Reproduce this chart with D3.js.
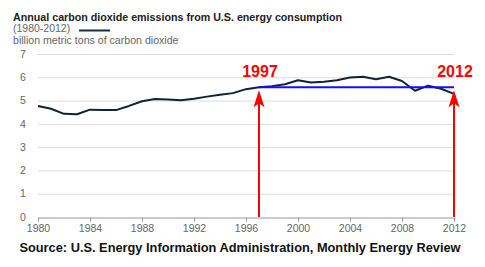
<!DOCTYPE html>
<html lang="en">
<head>
<meta charset="utf-8">
<style>
  body { margin: 0; background: #fff; font-family: "Liberation Sans", Arial, sans-serif; }
  .axis text { fill: #666; font-size: 10.5px; }
</style>
</head>
<body>
<svg width="485" height="267"></svg>
<script src="https://cdn.jsdelivr.net/npm/d3@7"></script>
<script>
// annual CO2 emissions, billion metric tons
var years = d3.range(1980, 2013)
var emissions = [4.77, 4.65, 4.43, 4.41, 4.61, 4.59, 4.59, 4.77, 4.97, 5.07,
  5.05, 5.01, 5.08, 5.17, 5.25, 5.32, 5.49, 5.57, 5.62, 5.70,
  5.87, 5.78, 5.81, 5.87, 5.99, 6.02, 5.92, 6.02, 5.84, 5.42,
  5.64, 5.51, 5.29]
var xTicks = d3.range(1980, 2013, 4)
var yTicks = [0, 1, 2, 3, 4, 5, 6, 7]
var markYears = [1997, 2012]

var svg = d3.select('svg')
var margin = {top: 54, right: 31, bottom: 50, left: 38}
var width = 485 - margin.left - margin.right
var height = 267 - margin.top - margin.bottom

var x = d3.scaleLinear().domain([1980, 2012]).range([margin.left, margin.left + width])
var y = d3.scaleLinear().domain([0, 7]).range([margin.top + height, margin.top])

// header
svg.append('text').attr('x', 13).attr('y', 21)
  .attr('font-size', 10.7).attr('font-weight', 'bold').attr('fill', '#222')
  .text('Annual carbon dioxide emissions from U.S. energy consumption')
svg.append('text').attr('x', 13).attr('y', 32)
  .attr('font-size', 10.5).attr('fill', '#666')
  .text('(1980-2012)')
svg.append('line').attr('x1', 79).attr('x2', 110).attr('y1', 30.5).attr('y2', 30.5)
  .attr('stroke', '#10304a').attr('stroke-width', 2)
svg.append('text').attr('x', 13).attr('y', 44)
  .attr('font-size', 10.6).attr('fill', '#666')
  .text('billion metric tons of carbon dioxide')

// gridlines + y labels
var yAxis = svg.append('g').attr('class', 'axis')
yAxis.selectAll('line').data(yTicks.slice(1)).enter().append('line')
  .attr('x1', margin.left).attr('x2', margin.left + width)
  .attr('y1', function (d) { return y(d) + 0.5 })
  .attr('y2', function (d) { return y(d) + 0.5 })
  .attr('stroke', '#ddd')
yAxis.selectAll('text').data(yTicks).enter().append('text')
  .attr('x', 23).attr('y', function (d) { return y(d) })
  .attr('dy', '0.35em').attr('text-anchor', 'middle')
  .text(function (d) { return d })

// x axis
var xAxis = svg.append('g').attr('class', 'axis')
  .attr('transform', 'translate(0,' + (y(0) + 0.5) + ')')
  .call(d3.axisBottom(x).tickValues(xTicks).tickFormat(d3.format('d')).tickSize(4).tickPadding(3))
xAxis.select('.domain').attr('stroke', '#999')
xAxis.selectAll('.tick line').attr('stroke', '#999')
xAxis.selectAll('text').attr('font-family', null).attr('font-size', null)

// emissions line
var line = d3.line()
  .x(function (d, i) { return x(years[i]) })
  .y(function (d) { return y(d) })
svg.append('path').datum(emissions)
  .attr('fill', 'none').attr('stroke', '#0f2336').attr('stroke-width', 2)
  .attr('stroke-linejoin', 'round')
  .attr('d', line)

// 1997 level
var level = emissions[years.indexOf(1997)]
svg.append('line')
  .attr('x1', x(1997)).attr('x2', x(2012))
  .attr('y1', y(level)).attr('y2', y(level))
  .attr('stroke', '#1010ff').attr('stroke-width', 2)

// red arrows + labels
var marks = svg.append('g').selectAll('g').data(markYears).enter().append('g')
marks.append('line')
  .attr('x1', function (d) { return x(d) }).attr('x2', function (d) { return x(d) })
  .attr('y1', y(0)).attr('y2', y(level) + 10)
  .attr('stroke', '#ff0000').attr('stroke-width', 2)
marks.append('path')
  .attr('d', function (d) {
    var tip = y(level) + 3
    return 'M' + x(d) + ',' + tip + 'L' + (x(d) - 5.5) + ',' + (tip + 17) +
      'L' + x(d) + ',' + (tip + 13) + 'L' + (x(d) + 5.5) + ',' + (tip + 17) + 'Z'
  })
  .attr('fill', '#ff0000')
marks.append('text')
  .attr('x', function (d) { return x(d) + 1 })
  .attr('y', y(level) - 10.5)
  .attr('text-anchor', 'middle')
  .attr('font-size', 16).attr('font-weight', 'bold').attr('fill', '#ff0000')
  .text(function (d) { return d })

// source
svg.append('text').attr('x', 240).attr('y', 252)
  .attr('text-anchor', 'middle')
  .attr('font-size', 12.8).attr('font-weight', 'bold').attr('fill', '#111')
  .text('Source: U.S. Energy Information Administration, Monthly Energy Review')
</script>
</body>
</html>
